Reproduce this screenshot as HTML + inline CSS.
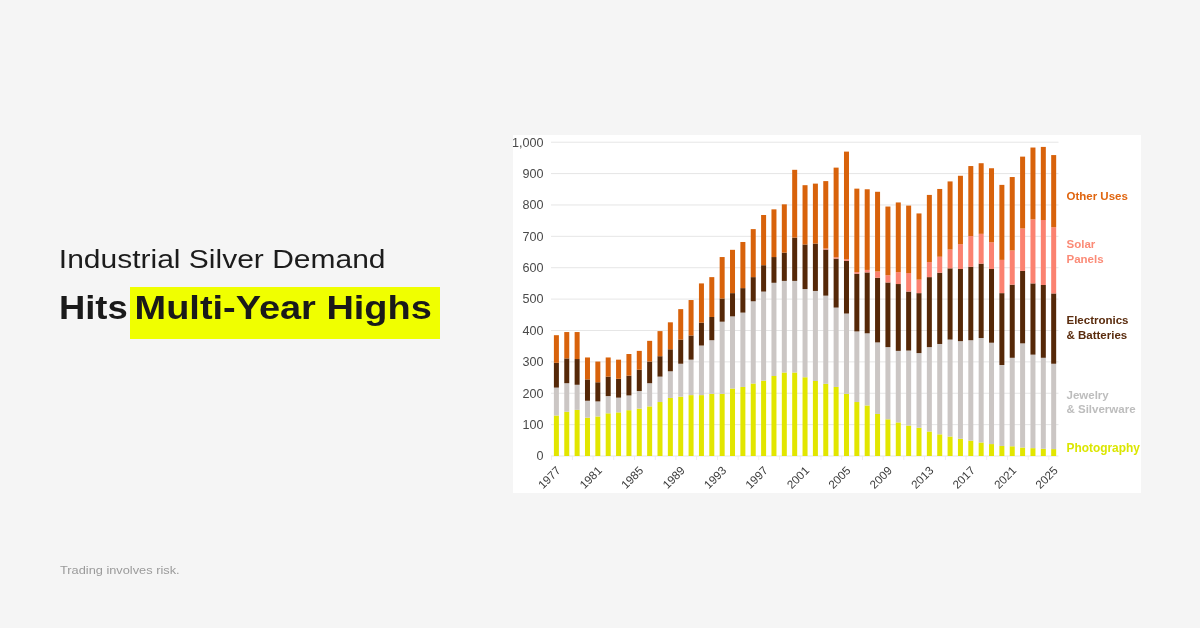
<!DOCTYPE html><html><head><meta charset="utf-8"><style>
html,body{margin:0;padding:0;width:1200px;height:628px;overflow:hidden;background:#f5f5f5;}
svg{position:absolute;left:0;top:0;display:block;will-change:transform;}
text{font-family:"Liberation Sans",sans-serif;}
</style></head><body>
<svg width="1200" height="628" viewBox="0 0 1200 628">
<text transform="translate(58.85,267.9) scale(1.181,1)" font-size="25.4" fill="#1c1c1c">Industrial Silver Demand</text>
<rect x="130" y="287" width="310" height="52" fill="#f0ff00"/>
<text transform="translate(58.9,319) scale(1.104,1)" font-size="33" font-weight="bold" fill="#1a1a1a">Hits</text>
<text transform="translate(134.6,319) scale(1.15,1)" font-size="33" font-weight="bold" fill="#1a1a1a">Multi-Year Highs</text>
<text transform="translate(60,574.4) scale(1.112,1)" font-size="11.5" fill="#9a9a9a">Trading involves risk.</text>
<rect x="513" y="135" width="628" height="358" fill="#ffffff"/>
<rect x="551.0" y="455.50" width="507.5" height="1" fill="#e6e6e6"/>
<text x="543.5" y="460.30" font-size="12.6" fill="#4a4a4a" text-anchor="end">0</text>
<rect x="551.0" y="424.12" width="507.5" height="1" fill="#e6e6e6"/>
<text x="543.5" y="428.92" font-size="12.6" fill="#4a4a4a" text-anchor="end">100</text>
<rect x="551.0" y="392.74" width="507.5" height="1" fill="#e6e6e6"/>
<text x="543.5" y="397.54" font-size="12.6" fill="#4a4a4a" text-anchor="end">200</text>
<rect x="551.0" y="361.36" width="507.5" height="1" fill="#e6e6e6"/>
<text x="543.5" y="366.16" font-size="12.6" fill="#4a4a4a" text-anchor="end">300</text>
<rect x="551.0" y="329.98" width="507.5" height="1" fill="#e6e6e6"/>
<text x="543.5" y="334.78" font-size="12.6" fill="#4a4a4a" text-anchor="end">400</text>
<rect x="551.0" y="298.60" width="507.5" height="1" fill="#e6e6e6"/>
<text x="543.5" y="303.40" font-size="12.6" fill="#4a4a4a" text-anchor="end">500</text>
<rect x="551.0" y="267.22" width="507.5" height="1" fill="#e6e6e6"/>
<text x="543.5" y="272.02" font-size="12.6" fill="#4a4a4a" text-anchor="end">600</text>
<rect x="551.0" y="235.84" width="507.5" height="1" fill="#e6e6e6"/>
<text x="543.5" y="240.64" font-size="12.6" fill="#4a4a4a" text-anchor="end">700</text>
<rect x="551.0" y="204.46" width="507.5" height="1" fill="#e6e6e6"/>
<text x="543.5" y="209.26" font-size="12.6" fill="#4a4a4a" text-anchor="end">800</text>
<rect x="551.0" y="173.08" width="507.5" height="1" fill="#e6e6e6"/>
<text x="543.5" y="177.88" font-size="12.6" fill="#4a4a4a" text-anchor="end">900</text>
<rect x="551.0" y="141.70" width="507.5" height="1" fill="#e6e6e6"/>
<text x="543.5" y="146.50" font-size="12.6" fill="#4a4a4a" text-anchor="end">1,000</text>
<rect x="553.90" y="415.52" width="5.00" height="40.48" fill="#e2e600"/>
<rect x="553.90" y="387.59" width="5.00" height="27.93" fill="#cbc6c4"/>
<rect x="553.90" y="362.80" width="5.00" height="24.79" fill="#552808"/>
<rect x="553.90" y="335.19" width="5.00" height="27.61" fill="#d8620b"/>
<rect x="564.26" y="411.75" width="5.00" height="44.25" fill="#e2e600"/>
<rect x="564.26" y="383.20" width="5.00" height="28.56" fill="#cbc6c4"/>
<rect x="564.26" y="358.41" width="5.00" height="24.79" fill="#552808"/>
<rect x="564.26" y="332.05" width="5.00" height="26.36" fill="#d8620b"/>
<rect x="574.62" y="409.87" width="5.00" height="46.13" fill="#e2e600"/>
<rect x="574.62" y="384.77" width="5.00" height="25.10" fill="#cbc6c4"/>
<rect x="574.62" y="359.04" width="5.00" height="25.73" fill="#552808"/>
<rect x="574.62" y="332.05" width="5.00" height="26.99" fill="#d8620b"/>
<rect x="584.98" y="417.72" width="5.00" height="38.28" fill="#e2e600"/>
<rect x="584.98" y="400.77" width="5.00" height="16.95" fill="#cbc6c4"/>
<rect x="584.98" y="379.43" width="5.00" height="21.34" fill="#552808"/>
<rect x="584.98" y="357.47" width="5.00" height="21.97" fill="#d8620b"/>
<rect x="595.34" y="416.46" width="5.00" height="39.54" fill="#e2e600"/>
<rect x="595.34" y="401.40" width="5.00" height="15.06" fill="#cbc6c4"/>
<rect x="595.34" y="382.26" width="5.00" height="19.14" fill="#552808"/>
<rect x="595.34" y="361.55" width="5.00" height="20.71" fill="#d8620b"/>
<rect x="605.70" y="413.32" width="5.00" height="42.68" fill="#e2e600"/>
<rect x="605.70" y="396.06" width="5.00" height="17.26" fill="#cbc6c4"/>
<rect x="605.70" y="376.61" width="5.00" height="19.46" fill="#552808"/>
<rect x="605.70" y="357.47" width="5.00" height="19.14" fill="#d8620b"/>
<rect x="616.06" y="412.38" width="5.00" height="43.62" fill="#e2e600"/>
<rect x="616.06" y="397.63" width="5.00" height="14.75" fill="#cbc6c4"/>
<rect x="616.06" y="378.81" width="5.00" height="18.83" fill="#552808"/>
<rect x="616.06" y="359.66" width="5.00" height="19.14" fill="#d8620b"/>
<rect x="626.42" y="410.19" width="5.00" height="45.81" fill="#e2e600"/>
<rect x="626.42" y="395.44" width="5.00" height="14.75" fill="#cbc6c4"/>
<rect x="626.42" y="375.67" width="5.00" height="19.77" fill="#552808"/>
<rect x="626.42" y="354.01" width="5.00" height="21.65" fill="#d8620b"/>
<rect x="636.78" y="408.62" width="5.00" height="47.38" fill="#e2e600"/>
<rect x="636.78" y="391.04" width="5.00" height="17.57" fill="#cbc6c4"/>
<rect x="636.78" y="369.70" width="5.00" height="21.34" fill="#552808"/>
<rect x="636.78" y="350.88" width="5.00" height="18.83" fill="#d8620b"/>
<rect x="647.14" y="406.42" width="5.00" height="49.58" fill="#e2e600"/>
<rect x="647.14" y="383.20" width="5.00" height="23.22" fill="#cbc6c4"/>
<rect x="647.14" y="361.55" width="5.00" height="21.65" fill="#552808"/>
<rect x="647.14" y="340.84" width="5.00" height="20.71" fill="#d8620b"/>
<rect x="657.50" y="402.03" width="5.00" height="53.97" fill="#e2e600"/>
<rect x="657.50" y="376.61" width="5.00" height="25.42" fill="#cbc6c4"/>
<rect x="657.50" y="356.21" width="5.00" height="20.40" fill="#552808"/>
<rect x="657.50" y="331.11" width="5.00" height="25.10" fill="#d8620b"/>
<rect x="667.86" y="397.95" width="5.00" height="58.05" fill="#e2e600"/>
<rect x="667.86" y="371.27" width="5.00" height="26.67" fill="#cbc6c4"/>
<rect x="667.86" y="349.31" width="5.00" height="21.97" fill="#552808"/>
<rect x="667.86" y="322.32" width="5.00" height="26.99" fill="#d8620b"/>
<rect x="678.22" y="396.69" width="5.00" height="59.31" fill="#e2e600"/>
<rect x="678.22" y="363.74" width="5.00" height="32.95" fill="#cbc6c4"/>
<rect x="678.22" y="339.58" width="5.00" height="24.16" fill="#552808"/>
<rect x="678.22" y="309.14" width="5.00" height="30.44" fill="#d8620b"/>
<rect x="688.58" y="395.12" width="5.00" height="60.88" fill="#e2e600"/>
<rect x="688.58" y="359.66" width="5.00" height="35.46" fill="#cbc6c4"/>
<rect x="688.58" y="335.50" width="5.00" height="24.16" fill="#552808"/>
<rect x="688.58" y="300.04" width="5.00" height="35.46" fill="#d8620b"/>
<rect x="698.94" y="395.12" width="5.00" height="60.88" fill="#e2e600"/>
<rect x="698.94" y="345.54" width="5.00" height="49.58" fill="#cbc6c4"/>
<rect x="698.94" y="322.63" width="5.00" height="22.91" fill="#552808"/>
<rect x="698.94" y="283.41" width="5.00" height="39.23" fill="#d8620b"/>
<rect x="709.30" y="393.87" width="5.00" height="62.13" fill="#e2e600"/>
<rect x="709.30" y="340.21" width="5.00" height="53.66" fill="#cbc6c4"/>
<rect x="709.30" y="316.99" width="5.00" height="23.22" fill="#552808"/>
<rect x="709.30" y="277.13" width="5.00" height="39.85" fill="#d8620b"/>
<rect x="719.66" y="393.87" width="5.00" height="62.13" fill="#e2e600"/>
<rect x="719.66" y="321.69" width="5.00" height="72.17" fill="#cbc6c4"/>
<rect x="719.66" y="298.47" width="5.00" height="23.22" fill="#552808"/>
<rect x="719.66" y="257.05" width="5.00" height="41.42" fill="#d8620b"/>
<rect x="730.02" y="388.53" width="5.00" height="67.47" fill="#e2e600"/>
<rect x="730.02" y="316.36" width="5.00" height="72.17" fill="#cbc6c4"/>
<rect x="730.02" y="293.14" width="5.00" height="23.22" fill="#552808"/>
<rect x="730.02" y="249.83" width="5.00" height="43.30" fill="#d8620b"/>
<rect x="740.38" y="386.96" width="5.00" height="69.04" fill="#e2e600"/>
<rect x="740.38" y="312.59" width="5.00" height="74.37" fill="#cbc6c4"/>
<rect x="740.38" y="288.12" width="5.00" height="24.48" fill="#552808"/>
<rect x="740.38" y="241.99" width="5.00" height="46.13" fill="#d8620b"/>
<rect x="750.74" y="383.51" width="5.00" height="72.49" fill="#e2e600"/>
<rect x="750.74" y="301.30" width="5.00" height="82.22" fill="#cbc6c4"/>
<rect x="750.74" y="277.13" width="5.00" height="24.16" fill="#552808"/>
<rect x="750.74" y="229.12" width="5.00" height="48.01" fill="#d8620b"/>
<rect x="761.10" y="380.69" width="5.00" height="75.31" fill="#e2e600"/>
<rect x="761.10" y="291.57" width="5.00" height="89.12" fill="#cbc6c4"/>
<rect x="761.10" y="265.21" width="5.00" height="26.36" fill="#552808"/>
<rect x="761.10" y="215.00" width="5.00" height="50.21" fill="#d8620b"/>
<rect x="771.46" y="375.98" width="5.00" height="80.02" fill="#e2e600"/>
<rect x="771.46" y="282.78" width="5.00" height="93.20" fill="#cbc6c4"/>
<rect x="771.46" y="257.05" width="5.00" height="25.73" fill="#552808"/>
<rect x="771.46" y="209.35" width="5.00" height="47.70" fill="#d8620b"/>
<rect x="781.82" y="372.53" width="5.00" height="83.47" fill="#e2e600"/>
<rect x="781.82" y="280.90" width="5.00" height="91.63" fill="#cbc6c4"/>
<rect x="781.82" y="252.66" width="5.00" height="28.24" fill="#552808"/>
<rect x="781.82" y="204.33" width="5.00" height="48.33" fill="#d8620b"/>
<rect x="792.18" y="372.53" width="5.00" height="83.47" fill="#e2e600"/>
<rect x="792.18" y="280.90" width="5.00" height="91.63" fill="#cbc6c4"/>
<rect x="792.18" y="237.60" width="5.00" height="43.30" fill="#552808"/>
<rect x="792.18" y="169.81" width="5.00" height="67.78" fill="#d8620b"/>
<rect x="802.54" y="377.24" width="5.00" height="78.76" fill="#e2e600"/>
<rect x="802.54" y="289.06" width="5.00" height="88.18" fill="#cbc6c4"/>
<rect x="802.54" y="244.50" width="5.00" height="44.56" fill="#552808"/>
<rect x="802.54" y="185.19" width="5.00" height="59.31" fill="#d8620b"/>
<rect x="812.90" y="381.00" width="5.00" height="75.00" fill="#e2e600"/>
<rect x="812.90" y="290.94" width="5.00" height="90.06" fill="#cbc6c4"/>
<rect x="812.90" y="243.56" width="5.00" height="47.38" fill="#552808"/>
<rect x="812.90" y="183.62" width="5.00" height="59.94" fill="#d8620b"/>
<rect x="823.26" y="383.83" width="5.00" height="72.17" fill="#e2e600"/>
<rect x="823.26" y="295.65" width="5.00" height="88.18" fill="#cbc6c4"/>
<rect x="823.26" y="249.52" width="5.00" height="46.13" fill="#552808"/>
<rect x="823.26" y="248.58" width="5.00" height="0.94" fill="#fb8270"/>
<rect x="823.26" y="181.11" width="5.00" height="67.47" fill="#d8620b"/>
<rect x="833.62" y="386.96" width="5.00" height="69.04" fill="#e2e600"/>
<rect x="833.62" y="307.57" width="5.00" height="79.39" fill="#cbc6c4"/>
<rect x="833.62" y="258.62" width="5.00" height="48.95" fill="#552808"/>
<rect x="833.62" y="257.36" width="5.00" height="1.26" fill="#fb8270"/>
<rect x="833.62" y="167.62" width="5.00" height="89.75" fill="#d8620b"/>
<rect x="843.98" y="393.87" width="5.00" height="62.13" fill="#e2e600"/>
<rect x="843.98" y="313.53" width="5.00" height="80.33" fill="#cbc6c4"/>
<rect x="843.98" y="260.82" width="5.00" height="52.72" fill="#552808"/>
<rect x="843.98" y="259.25" width="5.00" height="1.57" fill="#fb8270"/>
<rect x="843.98" y="151.61" width="5.00" height="107.63" fill="#d8620b"/>
<rect x="854.34" y="402.03" width="5.00" height="53.97" fill="#e2e600"/>
<rect x="854.34" y="331.42" width="5.00" height="70.60" fill="#cbc6c4"/>
<rect x="854.34" y="273.68" width="5.00" height="57.74" fill="#552808"/>
<rect x="854.34" y="272.11" width="5.00" height="1.57" fill="#fb8270"/>
<rect x="854.34" y="188.64" width="5.00" height="83.47" fill="#d8620b"/>
<rect x="864.70" y="405.48" width="5.00" height="50.52" fill="#e2e600"/>
<rect x="864.70" y="333.30" width="5.00" height="72.17" fill="#cbc6c4"/>
<rect x="864.70" y="272.43" width="5.00" height="60.88" fill="#552808"/>
<rect x="864.70" y="269.92" width="5.00" height="2.51" fill="#fb8270"/>
<rect x="864.70" y="189.27" width="5.00" height="80.65" fill="#d8620b"/>
<rect x="875.06" y="413.95" width="5.00" height="42.05" fill="#e2e600"/>
<rect x="875.06" y="342.40" width="5.00" height="71.55" fill="#cbc6c4"/>
<rect x="875.06" y="277.76" width="5.00" height="64.64" fill="#552808"/>
<rect x="875.06" y="271.49" width="5.00" height="6.28" fill="#fb8270"/>
<rect x="875.06" y="191.78" width="5.00" height="79.71" fill="#d8620b"/>
<rect x="885.42" y="419.29" width="5.00" height="36.71" fill="#e2e600"/>
<rect x="885.42" y="347.11" width="5.00" height="72.17" fill="#cbc6c4"/>
<rect x="885.42" y="282.47" width="5.00" height="64.64" fill="#552808"/>
<rect x="885.42" y="275.25" width="5.00" height="7.22" fill="#fb8270"/>
<rect x="885.42" y="206.53" width="5.00" height="68.72" fill="#d8620b"/>
<rect x="895.78" y="422.42" width="5.00" height="33.58" fill="#e2e600"/>
<rect x="895.78" y="350.88" width="5.00" height="71.55" fill="#cbc6c4"/>
<rect x="895.78" y="284.04" width="5.00" height="66.84" fill="#552808"/>
<rect x="895.78" y="272.11" width="5.00" height="11.92" fill="#fb8270"/>
<rect x="895.78" y="202.45" width="5.00" height="69.66" fill="#d8620b"/>
<rect x="906.14" y="425.56" width="5.00" height="30.44" fill="#e2e600"/>
<rect x="906.14" y="350.56" width="5.00" height="75.00" fill="#cbc6c4"/>
<rect x="906.14" y="291.57" width="5.00" height="58.99" fill="#552808"/>
<rect x="906.14" y="273.05" width="5.00" height="18.51" fill="#fb8270"/>
<rect x="906.14" y="205.59" width="5.00" height="67.47" fill="#d8620b"/>
<rect x="916.50" y="427.76" width="5.00" height="28.24" fill="#e2e600"/>
<rect x="916.50" y="353.07" width="5.00" height="74.68" fill="#cbc6c4"/>
<rect x="916.50" y="293.14" width="5.00" height="59.94" fill="#552808"/>
<rect x="916.50" y="279.64" width="5.00" height="13.49" fill="#fb8270"/>
<rect x="916.50" y="213.43" width="5.00" height="66.21" fill="#d8620b"/>
<rect x="926.86" y="431.52" width="5.00" height="24.48" fill="#e2e600"/>
<rect x="926.86" y="347.11" width="5.00" height="84.41" fill="#cbc6c4"/>
<rect x="926.86" y="277.13" width="5.00" height="69.98" fill="#552808"/>
<rect x="926.86" y="262.07" width="5.00" height="15.06" fill="#fb8270"/>
<rect x="926.86" y="194.92" width="5.00" height="67.15" fill="#d8620b"/>
<rect x="937.22" y="434.35" width="5.00" height="21.65" fill="#e2e600"/>
<rect x="937.22" y="343.97" width="5.00" height="90.37" fill="#cbc6c4"/>
<rect x="937.22" y="272.74" width="5.00" height="71.23" fill="#552808"/>
<rect x="937.22" y="256.74" width="5.00" height="16.00" fill="#fb8270"/>
<rect x="937.22" y="188.96" width="5.00" height="67.78" fill="#d8620b"/>
<rect x="947.58" y="436.54" width="5.00" height="19.46" fill="#e2e600"/>
<rect x="947.58" y="339.58" width="5.00" height="96.96" fill="#cbc6c4"/>
<rect x="947.58" y="268.35" width="5.00" height="71.23" fill="#552808"/>
<rect x="947.58" y="249.52" width="5.00" height="18.83" fill="#fb8270"/>
<rect x="947.58" y="181.42" width="5.00" height="68.09" fill="#d8620b"/>
<rect x="957.94" y="438.74" width="5.00" height="17.26" fill="#e2e600"/>
<rect x="957.94" y="341.15" width="5.00" height="97.59" fill="#cbc6c4"/>
<rect x="957.94" y="268.98" width="5.00" height="72.17" fill="#552808"/>
<rect x="957.94" y="244.18" width="5.00" height="24.79" fill="#fb8270"/>
<rect x="957.94" y="175.78" width="5.00" height="68.41" fill="#d8620b"/>
<rect x="968.30" y="440.62" width="5.00" height="15.38" fill="#e2e600"/>
<rect x="968.30" y="340.21" width="5.00" height="100.42" fill="#cbc6c4"/>
<rect x="968.30" y="266.78" width="5.00" height="73.43" fill="#552808"/>
<rect x="968.30" y="236.03" width="5.00" height="30.75" fill="#fb8270"/>
<rect x="968.30" y="166.05" width="5.00" height="69.98" fill="#d8620b"/>
<rect x="978.66" y="442.51" width="5.00" height="13.49" fill="#e2e600"/>
<rect x="978.66" y="338.01" width="5.00" height="104.50" fill="#cbc6c4"/>
<rect x="978.66" y="263.64" width="5.00" height="74.37" fill="#552808"/>
<rect x="978.66" y="233.83" width="5.00" height="29.81" fill="#fb8270"/>
<rect x="978.66" y="163.22" width="5.00" height="70.61" fill="#d8620b"/>
<rect x="989.02" y="444.08" width="5.00" height="11.92" fill="#e2e600"/>
<rect x="989.02" y="342.72" width="5.00" height="101.36" fill="#cbc6c4"/>
<rect x="989.02" y="268.98" width="5.00" height="73.74" fill="#552808"/>
<rect x="989.02" y="242.30" width="5.00" height="26.67" fill="#fb8270"/>
<rect x="989.02" y="168.25" width="5.00" height="74.06" fill="#d8620b"/>
<rect x="999.38" y="445.96" width="5.00" height="10.04" fill="#e2e600"/>
<rect x="999.38" y="365.00" width="5.00" height="80.96" fill="#cbc6c4"/>
<rect x="999.38" y="293.14" width="5.00" height="71.86" fill="#552808"/>
<rect x="999.38" y="259.88" width="5.00" height="33.26" fill="#fb8270"/>
<rect x="999.38" y="184.88" width="5.00" height="75.00" fill="#d8620b"/>
<rect x="1009.74" y="446.27" width="5.00" height="9.73" fill="#e2e600"/>
<rect x="1009.74" y="357.78" width="5.00" height="88.49" fill="#cbc6c4"/>
<rect x="1009.74" y="284.67" width="5.00" height="73.12" fill="#552808"/>
<rect x="1009.74" y="250.46" width="5.00" height="34.20" fill="#fb8270"/>
<rect x="1009.74" y="177.03" width="5.00" height="73.43" fill="#d8620b"/>
<rect x="1020.10" y="447.53" width="5.00" height="8.47" fill="#e2e600"/>
<rect x="1020.10" y="343.35" width="5.00" height="104.18" fill="#cbc6c4"/>
<rect x="1020.10" y="270.86" width="5.00" height="72.49" fill="#552808"/>
<rect x="1020.10" y="228.49" width="5.00" height="42.36" fill="#fb8270"/>
<rect x="1020.10" y="156.63" width="5.00" height="71.86" fill="#d8620b"/>
<rect x="1030.46" y="448.15" width="5.00" height="7.85" fill="#e2e600"/>
<rect x="1030.46" y="354.64" width="5.00" height="93.51" fill="#cbc6c4"/>
<rect x="1030.46" y="283.41" width="5.00" height="71.23" fill="#552808"/>
<rect x="1030.46" y="219.39" width="5.00" height="64.02" fill="#fb8270"/>
<rect x="1030.46" y="147.53" width="5.00" height="71.86" fill="#d8620b"/>
<rect x="1040.82" y="448.78" width="5.00" height="7.22" fill="#e2e600"/>
<rect x="1040.82" y="357.78" width="5.00" height="91.00" fill="#cbc6c4"/>
<rect x="1040.82" y="284.98" width="5.00" height="72.80" fill="#552808"/>
<rect x="1040.82" y="220.02" width="5.00" height="64.96" fill="#fb8270"/>
<rect x="1040.82" y="146.91" width="5.00" height="73.12" fill="#d8620b"/>
<rect x="1051.18" y="449.10" width="5.00" height="6.90" fill="#e2e600"/>
<rect x="1051.18" y="363.74" width="5.00" height="85.35" fill="#cbc6c4"/>
<rect x="1051.18" y="293.45" width="5.00" height="70.29" fill="#552808"/>
<rect x="1051.18" y="227.24" width="5.00" height="66.21" fill="#fb8270"/>
<rect x="1051.18" y="155.07" width="5.00" height="72.17" fill="#d8620b"/>
<rect x="551.22" y="456" width="0.8" height="4" fill="#eee8e8"/>
<rect x="571.94" y="456" width="0.8" height="4" fill="#eee8e8"/>
<rect x="592.66" y="456" width="0.8" height="4" fill="#eee8e8"/>
<rect x="613.38" y="456" width="0.8" height="4" fill="#eee8e8"/>
<rect x="634.10" y="456" width="0.8" height="4" fill="#eee8e8"/>
<rect x="654.82" y="456" width="0.8" height="4" fill="#eee8e8"/>
<rect x="675.54" y="456" width="0.8" height="4" fill="#eee8e8"/>
<rect x="696.26" y="456" width="0.8" height="4" fill="#eee8e8"/>
<rect x="716.98" y="456" width="0.8" height="4" fill="#eee8e8"/>
<rect x="737.70" y="456" width="0.8" height="4" fill="#eee8e8"/>
<rect x="758.42" y="456" width="0.8" height="4" fill="#eee8e8"/>
<rect x="779.14" y="456" width="0.8" height="4" fill="#eee8e8"/>
<rect x="799.86" y="456" width="0.8" height="4" fill="#eee8e8"/>
<rect x="820.58" y="456" width="0.8" height="4" fill="#eee8e8"/>
<rect x="841.30" y="456" width="0.8" height="4" fill="#eee8e8"/>
<rect x="862.02" y="456" width="0.8" height="4" fill="#eee8e8"/>
<rect x="882.74" y="456" width="0.8" height="4" fill="#eee8e8"/>
<rect x="903.46" y="456" width="0.8" height="4" fill="#eee8e8"/>
<rect x="924.18" y="456" width="0.8" height="4" fill="#eee8e8"/>
<rect x="944.90" y="456" width="0.8" height="4" fill="#eee8e8"/>
<rect x="965.62" y="456" width="0.8" height="4" fill="#eee8e8"/>
<rect x="986.34" y="456" width="0.8" height="4" fill="#eee8e8"/>
<rect x="1007.06" y="456" width="0.8" height="4" fill="#eee8e8"/>
<rect x="1027.78" y="456" width="0.8" height="4" fill="#eee8e8"/>
<rect x="1048.50" y="456" width="0.8" height="4" fill="#eee8e8"/>
<text transform="translate(561.30,471.3) rotate(-45)" font-size="11.6" fill="#3a3a3a" text-anchor="end">1977</text>
<text transform="translate(602.74,471.3) rotate(-45)" font-size="11.6" fill="#3a3a3a" text-anchor="end">1981</text>
<text transform="translate(644.18,471.3) rotate(-45)" font-size="11.6" fill="#3a3a3a" text-anchor="end">1985</text>
<text transform="translate(685.62,471.3) rotate(-45)" font-size="11.6" fill="#3a3a3a" text-anchor="end">1989</text>
<text transform="translate(727.06,471.3) rotate(-45)" font-size="11.6" fill="#3a3a3a" text-anchor="end">1993</text>
<text transform="translate(768.50,471.3) rotate(-45)" font-size="11.6" fill="#3a3a3a" text-anchor="end">1997</text>
<text transform="translate(809.94,471.3) rotate(-45)" font-size="11.6" fill="#3a3a3a" text-anchor="end">2001</text>
<text transform="translate(851.38,471.3) rotate(-45)" font-size="11.6" fill="#3a3a3a" text-anchor="end">2005</text>
<text transform="translate(892.82,471.3) rotate(-45)" font-size="11.6" fill="#3a3a3a" text-anchor="end">2009</text>
<text transform="translate(934.26,471.3) rotate(-45)" font-size="11.6" fill="#3a3a3a" text-anchor="end">2013</text>
<text transform="translate(975.70,471.3) rotate(-45)" font-size="11.6" fill="#3a3a3a" text-anchor="end">2017</text>
<text transform="translate(1017.14,471.3) rotate(-45)" font-size="11.6" fill="#3a3a3a" text-anchor="end">2021</text>
<text transform="translate(1058.58,471.3) rotate(-45)" font-size="11.6" fill="#3a3a3a" text-anchor="end">2025</text>
<text x="1066.5" y="199.6" font-size="11.5" font-weight="bold" fill="#e0650f">Other Uses</text>
<text x="1066.5" y="248.0" font-size="11.5" font-weight="bold" fill="#fb8b77">Solar</text>
<text x="1066.5" y="263.1" font-size="11.5" font-weight="bold" fill="#fb8b77">Panels</text>
<text x="1066.5" y="323.9" font-size="11.5" font-weight="bold" fill="#5a2c0e">Electronics</text>
<text x="1066.5" y="338.5" font-size="11.5" font-weight="bold" fill="#5a2c0e">&amp; Batteries</text>
<text x="1066.5" y="398.8" font-size="11.5" font-weight="bold" fill="#bdbdbd">Jewelry</text>
<text x="1066.5" y="413.1" font-size="11.5" font-weight="bold" fill="#bdbdbd">&amp; Silverware</text>
<text x="1066.5" y="452.1" font-size="11.9" font-weight="bold" fill="#dbe600">Photography</text>
</svg></body></html>
